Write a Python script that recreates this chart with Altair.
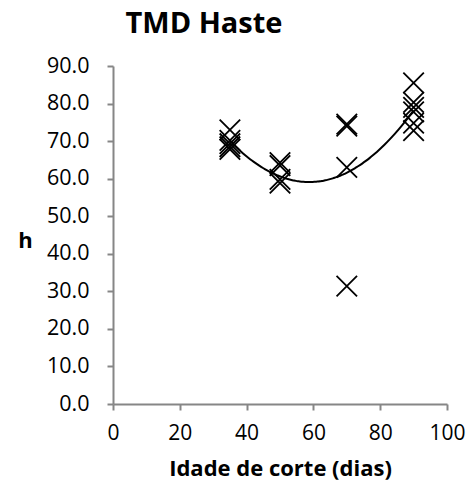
import altair as alt
import pandas as pd

# Cutting age (days) and measured h for each sample
idade = [35, 35, 35, 35, 35,
         50, 50, 50, 50,
         70, 70, 70, 70,
         90, 90, 90, 90, 90, 90]
h = [73.0, 70.2, 69.3, 68.5, 67.8,
     64.3, 63.5, 59.8, 58.8,
     74.5, 74.0, 63.0, 31.4,
     85.5, 80.3, 79.0, 77.8, 74.8, 72.8]

x_ticks = [0, 20, 40, 60, 80, 100]
y_ticks = [0, 10, 20, 30, 40, 50, 60, 70, 80, 90]

df = pd.DataFrame({"idade": idade, "h": h})

FONT = "Open Sans"
AXIS_GREY = "#868686"

x_enc = alt.X(
    "idade:Q",
    scale=alt.Scale(domain=[0, 100], nice=False, zero=False),
    axis=alt.Axis(
        values=x_ticks, title="Idade de corte (dias)", grid=False,
        domainColor=AXIS_GREY, domainWidth=2, tickColor=AXIS_GREY, tickWidth=2,
        tickSize=6, labelFont=FONT, labelFontSize=21, labelColor="black",
        labelPadding=12, labelFlush=False, labelOverlap=False,
        titleFont=FONT, titleFontSize=22, titleFontWeight="bold", titleColor="black",
        titleBaseline="middle", titleY=64,
    ),
)
y_enc = alt.Y(
    "h:Q",
    scale=alt.Scale(domain=[0, 90], nice=False, zero=True),
    axis=alt.Axis(
        values=y_ticks, format=".1f", title="h", grid=False,
        domainColor=AXIS_GREY, domainWidth=2, tickColor=AXIS_GREY, tickWidth=2,
        tickSize=6, labelFont=FONT, labelFontSize=21.5, labelColor="black",
        labelPadding=18, labelFlush=False, labelOverlap=False, labelBound=False,
        titleFont=FONT, titleFontSize=22, titleFontWeight="bold", titleColor="black",
        titleAngle=0, titleAlign="center", titleBaseline="middle",
        titleX=-88, titleY=174,
    ),
)

points = alt.Chart(df).mark_point(
    shape="M-1,-1L1,1M-1,1L1,-1",
    size=420,
    filled=False,
    stroke="black",
    strokeWidth=1.8,
    opacity=1,
).encode(x=x_enc, y=y_enc)

trend = alt.Chart(df).transform_regression(
    "idade", "h", method="poly", order=2, extent=[35, 90]
).mark_line(color="black", strokeWidth=2, interpolate="monotone").encode(
    x=x_enc, y=y_enc
)

chart = alt.layer(points, trend).properties(
    width=334,
    height=338,
    title=alt.TitleParams(
        "TMD Haste", font=FONT, fontSize=29, fontWeight="bold", color="black",
        anchor="middle", dx=-76, offset=16,
    ),
    autosize=alt.AutoSizeParams(type="none"),
    padding={"left": 113, "top": 66, "right": 27, "bottom": 92},
).configure_view(stroke=None).configure_axis(labelOverlap=False)

chart.save("out.html", embed_options={"renderer": "svg", "actions": False})
